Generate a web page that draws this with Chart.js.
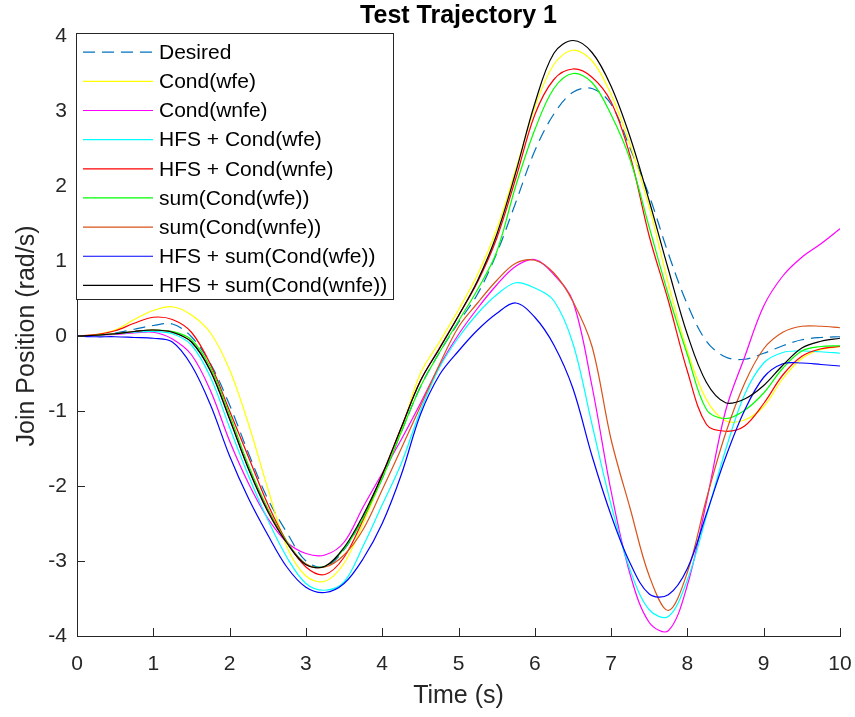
<!DOCTYPE html>
<html>
<head>
<meta charset="utf-8">
<style>html,body{margin:0;padding:0;background:#fff;}canvas{display:block;}</style>
<script src="https://cdn.jsdelivr.net/npm/chart.js@4.4.1/dist/chart.umd.min.js"></script>
</head>
<body>
<canvas id="c" width="855" height="717"></canvas>
<script>
const times = [0,0.25,0.5,0.75,1,1.25,1.5,1.75,2,2.25,2.5,2.75,3,3.25,3.5,3.75,4,4.25,4.5,4.75,5,5.25,5.5,5.75,6,6.25,6.5,6.75,7,7.25,7.5,7.75,8,8.25,8.5,8.75,9,9.25,9.5,9.75,10];
const seriesNames = ['Desired','Cond(wfe)','Cond(wnfe)','HFS + Cond(wfe)','HFS + Cond(wnfe)','sum(Cond(wfe))','sum(Cond(wnfe))','HFS + sum(Cond(wfe))','HFS + sum(Cond(wnfe))'];
const desired   = [0,0.01,0.04,0.09,0.14,0.16,-0.01,-0.37,-0.92,-1.57,-2.17,-2.62,-3.0,-3.08,-2.85,-2.42,-1.9,-1.28,-0.68,-0.22,0.18,0.56,1.1,1.78,2.47,2.96,3.25,3.3,3.09,2.5,1.87,1.1,0.42,-0.07,-0.28,-0.31,-0.23,-0.13,-0.05,-0.02,-0.01];
const condWfe   = [0,0.02,0.08,0.22,0.34,0.39,0.28,0.04,-0.45,-1.18,-2.03,-2.81,-3.2,-3.27,-3.03,-2.5,-1.88,-1.25,-0.5,-0.08,0.35,0.82,1.42,2.22,3.05,3.62,3.81,3.67,3.22,2.55,1.72,0.7,-0.2,-0.85,-1.13,-1.12,-0.94,-0.57,-0.3,-0.18,-0.14];
const condWnfe  = [0,0.01,0.02,0.04,0.05,-0.04,-0.25,-0.73,-1.4,-1.97,-2.43,-2.75,-2.9,-2.92,-2.75,-2.28,-1.83,-1.38,-0.9,-0.4,0.02,0.37,0.68,0.93,1.02,0.82,0.46,-0.67,-2.07,-3.18,-3.82,-3.93,-3.32,-2.21,-1.0,-0.28,0.4,0.8,1.05,1.23,1.43];
const hfsCondWfe  = [0,0.01,0.03,0.05,0.06,0.03,-0.12,-0.55,-1.22,-1.87,-2.45,-2.95,-3.3,-3.39,-3.28,-2.8,-2.25,-1.7,-1.0,-0.42,-0.02,0.3,0.55,0.71,0.64,0.47,-0.1,-1.18,-2.25,-3.12,-3.65,-3.74,-3.25,-2.4,-1.52,-0.78,-0.36,-0.22,-0.2,-0.21,-0.23];
const hfsCondWnfe = [0,0.02,0.07,0.17,0.25,0.22,0.05,-0.38,-1.0,-1.62,-2.24,-2.74,-3.08,-3.18,-2.95,-2.45,-1.85,-1.22,-0.6,-0.16,0.27,0.72,1.3,2.1,2.95,3.42,3.56,3.45,3.12,2.4,1.33,0.47,-0.47,-1.18,-1.27,-1.2,-0.9,-0.52,-0.27,-0.17,-0.14];
const sumCondWfe  = [0,0.01,0.03,0.06,0.08,0.06,-0.05,-0.42,-1.05,-1.73,-2.3,-2.74,-3.04,-3.07,-2.84,-2.43,-1.9,-1.28,-0.68,-0.22,0.2,0.62,1.12,2.0,2.75,3.3,3.5,3.38,2.95,2.35,1.45,0.55,-0.25,-0.98,-1.1,-0.99,-0.76,-0.43,-0.2,-0.14,-0.13];
const sumCondWnfe = [0,0.01,0.03,0.06,0.08,0.05,-0.08,-0.46,-1.1,-1.77,-2.32,-2.75,-3.04,-3.08,-2.92,-2.58,-2.05,-1.5,-0.94,-0.38,0.12,0.44,0.74,0.97,1.01,0.84,0.46,-0.14,-1.38,-2.3,-3.2,-3.66,-3.15,-2.17,-1.3,-0.63,-0.17,0.05,0.13,0.13,0.11];
const hfsSumWfe   = [0,-0.01,-0.01,-0.02,-0.03,-0.08,-0.39,-0.92,-1.6,-2.17,-2.65,-3.08,-3.35,-3.42,-3.3,-2.97,-2.5,-1.85,-1.05,-0.52,-0.2,0.08,0.3,0.44,0.25,-0.12,-0.7,-1.6,-2.39,-3.03,-3.44,-3.45,-3.1,-2.37,-1.62,-0.99,-0.55,-0.37,-0.36,-0.38,-0.4];
const hfsSumWnfe  = [0,0.01,0.03,0.06,0.08,0.05,-0.08,-0.47,-1.11,-1.78,-2.34,-2.76,-3.05,-3.07,-2.82,-2.39,-1.85,-1.22,-0.6,-0.17,0.27,0.74,1.35,2.18,3.1,3.77,3.94,3.78,3.33,2.65,1.8,0.89,0.02,-0.62,-0.89,-0.84,-0.66,-0.39,-0.16,-0.07,-0.03];
const xTicks = [0,1,2,3,4,5,6,7,8,9,10];
const yTicks = [-4,-3,-2,-1,0,1,2,3,4];

const allSeries = [desired,condWfe,condWnfe,hfsCondWfe,hfsCondWnfe,sumCondWfe,sumCondWnfe,hfsSumWfe,hfsSumWnfe];
const colors = ['#0072BD','#FFFF00','#FF00FF','#00FFFF','#FF0000','#00FF00','#D95319','#0000FF','#000000'];
const dashes = [[12,7],[],[],[],[],[],[],[],[]];

Chart.defaults.font.family = '"Liberation Sans", Arial, Helvetica, sans-serif';

const datasets = allSeries.map((arr, i) => ({
  label: seriesNames[i],
  data: times.map((t, k) => ({x: t, y: arr[k]})),
  borderColor: colors[i],
  backgroundColor: colors[i],
  borderWidth: 1.2,
  borderDash: dashes[i],
  pointRadius: 0,
  fill: false,
  tension: 0.35,
  order: allSeries.length - i
}));

const matlabPlugin = {
  id: 'matlabDeco',
  afterDatasetsDraw(chart) {
    const ctx = chart.ctx, a = chart.chartArea;
    const xs = chart.scales.x, ys = chart.scales.y;
    ctx.save();
    ctx.strokeStyle = '#262626';
    ctx.lineWidth = 1;
    ctx.setLineDash([]);
    ctx.beginPath();
    xTicks.forEach(v => {
      const px = Math.round(xs.getPixelForValue(v)) + 0.5;
      ctx.moveTo(px, a.bottom); ctx.lineTo(px, a.bottom - 8);
    });
    yTicks.forEach(v => {
      const py = Math.round(ys.getPixelForValue(v)) + 0.5;
      ctx.moveTo(a.left, py); ctx.lineTo(a.left + 8, py);
    });
    ctx.stroke();
    const bx = a.left - 0.5, by = a.top - 2.5, bw = 317, bh = 266;
    ctx.fillStyle = '#ffffff';
    ctx.fillRect(bx, by, bw, bh);
    ctx.strokeStyle = '#262626';
    ctx.strokeRect(bx, by, bw, bh);
    ctx.font = '21px "Liberation Sans", Arial, sans-serif';
    ctx.textBaseline = 'middle';
    ctx.textAlign = 'left';
    chart.data.datasets.forEach((ds, i) => {
      const y = by + 18.7 + i * 29.15;
      ctx.beginPath();
      ctx.strokeStyle = ds.borderColor;
      ctx.lineWidth = 1.2;
      ctx.setLineDash(ds.borderDash || []);
      ctx.moveTo(bx + 6.5, y); ctx.lineTo(bx + 76.5, y);
      ctx.stroke();
      ctx.setLineDash([]);
      ctx.fillStyle = '#000000';
      ctx.fillText(ds.label, bx + 82.5, y + 1);
    });
    ctx.restore();
  }
};

new Chart(document.getElementById('c'), {
  type: 'line',
  data: { datasets },
  options: {
    responsive: false,
    animation: false,
    devicePixelRatio: 1,
    layout: { padding: { left: 0, right: 15, top: 0, bottom: 0 } },
    plugins: {
      legend: { display: false },
      tooltip: { enabled: false },
      title: {
        display: true,
        text: 'Test Trajectory 1',
        color: '#000000',
        fullSize: false,
        font: { size: 25, weight: 'bold' },
        padding: { top: 1, bottom: 5 }
      }
    },
    scales: {
      x: {
        type: 'linear', min: 0, max: 10,
        afterBuildTicks: s => { s.ticks = xTicks.map(v => ({value: v})); },
        ticks: { color: '#262626', font: { size: 21 }, padding: 16, maxRotation: 0, autoSkip: false },
        grid: { display: false, drawTicks: false },
        border: { display: true, color: '#262626', width: 1 },
        title: { display: true, text: 'Time (s)', color: '#262626', font: { size: 25 }, padding: { top: 0, bottom: 6 } },
        afterFit: s => { s.height = 81; s.paddingLeft = 0; s.paddingRight = 0; }
      },
      y: {
        type: 'linear', min: -4, max: 4,
        afterBuildTicks: s => { s.ticks = yTicks.map(v => ({value: v})); },
        ticks: { color: '#262626', font: { size: 21 }, padding: 10 },
        grid: { display: false, drawTicks: false },
        border: { display: true, color: '#262626', width: 1 },
        title: { display: true, text: 'Join Position (rad/s)', color: '#262626', font: { size: 25 }, padding: { top: 12, bottom: 0 } },
        afterFit: s => { s.width = 77; s.paddingTop = 0; s.paddingBottom = 0; }
      }
    }
  },
  plugins: [matlabPlugin]
});
</script>
</body>
</html>
